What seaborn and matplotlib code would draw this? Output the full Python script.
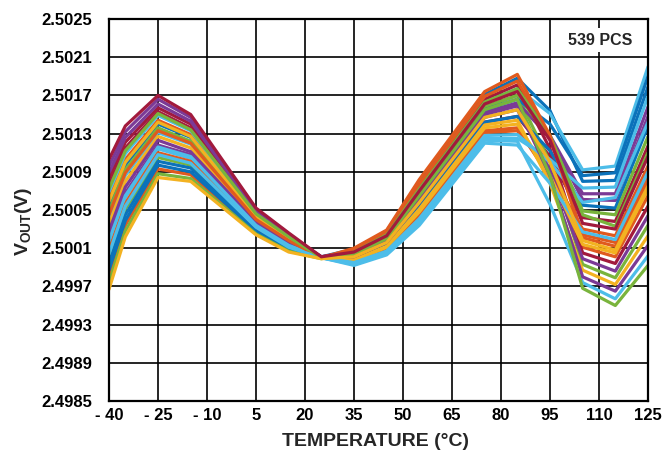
import matplotlib
matplotlib.use("Agg")
import matplotlib.pyplot as plt
import pandas as pd
import seaborn as sns
from matplotlib import font_manager

# ---------------- data ----------------
temperature_c = [-40, -35, -25, -15, 5, 15, 25, 35, 45, 55, 75, 85, 95, 105, 115, 125]

unit_01 = [2.50096, 2.50132, 2.50166, 2.50147, 2.50051, 2.50025, 2.50000, 2.50003, 2.50019, 2.50063, 2.50152, 2.50162, 2.50126, 2.50061, 2.50060, 2.50148]
unit_02 = [2.49981, 2.50034, 2.50093, 2.50087, 2.50027, 2.50008, 2.50000, 2.49996, 2.50009, 2.50046, 2.50133, 2.50136, 2.50084, 2.50011, 2.50001, 2.50065]
unit_03 = [2.50055, 2.50097, 2.50140, 2.50126, 2.50042, 2.50019, 2.50001, 2.50009, 2.50028, 2.50080, 2.50171, 2.50188, 2.50154, 2.50080, 2.50081, 2.50179]
unit_04 = [2.50015, 2.50063, 2.50114, 2.50104, 2.50034, 2.50013, 2.50000, 2.49993, 2.50004, 2.50036, 2.50123, 2.50122, 2.50056, 2.49974, 2.49957, 2.50002]
unit_05 = [2.50076, 2.50115, 2.50153, 2.50136, 2.50046, 2.50022, 2.50000, 2.49999, 2.50013, 2.50053, 2.50142, 2.50148, 2.50106, 2.50042, 2.50038, 2.50117]
unit_06 = [2.50001, 2.50051, 2.50105, 2.50097, 2.50031, 2.50011, 2.50000, 2.50005, 2.50021, 2.50068, 2.50158, 2.50170, 2.50100, 2.49993, 2.49979, 2.50034]
unit_07 = [2.50042, 2.50086, 2.50131, 2.50119, 2.50039, 2.50017, 2.50000, 2.50006, 2.50024, 2.50072, 2.50163, 2.50177, 2.50151, 2.50092, 2.50096, 2.50200]
unit_08 = [2.49967, 2.50022, 2.50084, 2.50080, 2.50024, 2.50006, 2.49999, 2.50001, 2.50016, 2.50058, 2.50147, 2.50155, 2.50100, 2.50018, 2.50008, 2.50075]
unit_09 = [2.50062, 2.50103, 2.50144, 2.50129, 2.50044, 2.50020, 2.50000, 2.49996, 2.50008, 2.50044, 2.50131, 2.50133, 2.50089, 2.50030, 2.50023, 2.50096]
unit_10 = [2.50021, 2.50068, 2.50118, 2.50108, 2.50035, 2.50014, 2.50000, 2.50003, 2.50019, 2.50063, 2.50152, 2.50162, 2.50128, 2.50067, 2.50067, 2.50158]
unit_11 = [2.50083, 2.50121, 2.50157, 2.50140, 2.50048, 2.50023, 2.50001, 2.50007, 2.50025, 2.50075, 2.50166, 2.50181, 2.50114, 2.50005, 2.49994, 2.50054]
unit_12 = [2.49994, 2.50045, 2.50101, 2.50094, 2.50030, 2.50010, 2.50000, 2.49999, 2.50013, 2.50053, 2.50142, 2.50148, 2.50112, 2.50055, 2.50052, 2.50138]
unit_13 = [2.50035, 2.50080, 2.50127, 2.50115, 2.50038, 2.50016, 2.50000, 2.49998, 2.50012, 2.50051, 2.50139, 2.50144, 2.50078, 2.49987, 2.49972, 2.50023]
unit_14 = [2.50049, 2.50092, 2.50136, 2.50122, 2.50041, 2.50018, 2.50000, 2.50005, 2.50021, 2.50068, 2.50158, 2.50170, 2.50126, 2.50049, 2.50045, 2.50127]
unit_15 = [2.50008, 2.50057, 2.50110, 2.50101, 2.50032, 2.50012, 2.50000, 2.50008, 2.50026, 2.50077, 2.50169, 2.50185, 2.50126, 2.50024, 2.50016, 2.50086]
unit_16 = [2.50069, 2.50109, 2.50149, 2.50133, 2.50045, 2.50021, 2.50000, 2.49994, 2.50006, 2.50039, 2.50125, 2.50125, 2.50103, 2.50073, 2.50074, 2.50169]
unit_17 = [2.50028, 2.50074, 2.50123, 2.50111, 2.50037, 2.50015, 2.50000, 2.50001, 2.50016, 2.50058, 2.50147, 2.50155, 2.50092, 2.49999, 2.49986, 2.50044]
unit_19 = [2.49987, 2.50039, 2.50097, 2.50090, 2.50028, 2.50009, 2.50000, 2.50004, 2.50020, 2.50065, 2.50155, 2.50166, 2.50140, 2.50086, 2.50089, 2.50190]
unit_20 = [2.50059, 2.50100, 2.50142, 2.50127, 2.50043, 2.50020, 2.50000, 2.49997, 2.50011, 2.50048, 2.50136, 2.50140, 2.50086, 2.50014, 2.50005, 2.50072]
unit_21 = [2.50018, 2.50065, 2.50116, 2.50106, 2.50034, 2.50013, 2.50000, 2.49995, 2.50007, 2.50041, 2.50128, 2.50129, 2.50100, 2.50058, 2.50063, 2.50142]
unit_22 = [2.50089, 2.50126, 2.50161, 2.50143, 2.50049, 2.50024, 2.50001, 2.50002, 2.50017, 2.50060, 2.50150, 2.50159, 2.50086, 2.49980, 2.49965, 2.50013]
unit_23 = [2.49974, 2.50028, 2.50088, 2.50083, 2.50025, 2.50007, 2.49999, 2.50006, 2.50024, 2.50072, 2.50163, 2.50177, 2.50128, 2.50045, 2.50033, 2.50110]
unit_24 = [2.50045, 2.50089, 2.50133, 2.50120, 2.50040, 2.50018, 2.50000, 2.50010, 2.50029, 2.50082, 2.50174, 2.50192, 2.50128, 2.50021, 2.50012, 2.50080]
unit_25 = [2.50004, 2.50054, 2.50108, 2.50099, 2.50032, 2.50011, 2.50000, 2.49992, 2.50003, 2.50034, 2.50120, 2.50118, 2.50078, 2.50027, 2.50019, 2.50090]
unit_26 = [2.50072, 2.50112, 2.50151, 2.50134, 2.50046, 2.50022, 2.50000, 2.50004, 2.50020, 2.50065, 2.50155, 2.50166, 2.50086, 2.49968, 2.49950, 2.49992]
unit_18 = [2.50103, 2.50138, 2.50170, 2.50150, 2.50052, 2.50026, 2.50001, 2.50006, 2.50023, 2.50070, 2.50161, 2.50174, 2.50123, 2.50036, 2.50030, 2.50106]

units = [unit_01, unit_02, unit_03, unit_04, unit_05, unit_06, unit_07, unit_09,
         unit_10, unit_11, unit_12, unit_13, unit_14, unit_15, unit_16, unit_17,
         unit_19, unit_20, unit_21, unit_22, unit_23, unit_24, unit_25, unit_26,
         unit_08, unit_18]

x_ticks = [-40, -25, -10, 5, 20, 35, 50, 65, 80, 95, 110, 125]
x_tick_labels = ["- 40", "- 25", "- 10", "5", "20", "35", "50", "65", "80", "95", "110", "125"]
y_ticks = [2.4985, 2.4989, 2.4993, 2.4997, 2.5001, 2.5005, 2.5009, 2.5013, 2.5017, 2.5021, 2.5025]
y_tick_labels = ["2.4985", "2.4989", "2.4993", "2.4997", "2.5001", "2.5005",
                 "2.5009", "2.5013", "2.5017", "2.5021", "2.5025"]
count_label = "539 PCS"

# ---------------- styles ----------------
BLUE, ORANGE, YELLOW, PURPLE = "#0b72ba", "#e05a1e", "#f3b221", "#7b3a96"
GREEN, SKY, RED = "#79b43c", "#4dbde9", "#a21a3d"
line_colors = [PURPLE, ORANGE, BLUE, SKY, RED, GREEN, SKY, ORANGE,
               PURPLE, RED, BLUE, YELLOW, GREEN, ORANGE, SKY, PURPLE,
               BLUE, YELLOW, SKY, PURPLE, GREEN, ORANGE, SKY, GREEN,
               YELLOW, RED]

sns.set_theme(style="white")
names = {f.name for f in font_manager.fontManager.ttflist}
narrow = "Liberation Sans Narrow" if "Liberation Sans Narrow" in names else "Liberation Sans"
plt.rcParams["font.family"] = [narrow, "DejaVu Sans"]
plt.rcParams["font.weight"] = "bold"
plt.rcParams["mathtext.fontset"] = "custom"
plt.rcParams["mathtext.rm"] = f"{narrow}:bold"
plt.rcParams["mathtext.default"] = "rm"

rows = []
for i, vals in enumerate(units):
    for t, v in zip(temperature_c, vals):
        rows.append((f"u{i:02d}", t, v))
df = pd.DataFrame(rows, columns=["unit", "temp", "vout"])

W, H = 667, 453
fig = plt.figure(figsize=(W / 100, H / 100), dpi=100)
ax = fig.add_axes([109 / W, 1 - 401 / H, 539 / W, 382 / H])

sns.lineplot(data=df, x="temp", y="vout", hue="unit", palette=line_colors,
             legend=False, linewidth=2.3, estimator=None, sort=False, ax=ax)

ax.set_xlim(-40, 125)
ax.set_ylim(2.4985, 2.5025)
ax.set_xticks(x_ticks)
ax.set_xticklabels(x_tick_labels)
ax.set_yticks(y_ticks)
ax.set_yticklabels(y_tick_labels)
ax.tick_params(axis="both", length=0, labelsize=12, colors="black")
ax.tick_params(axis="y", pad=12)
ax.tick_params(axis="x", pad=5)
for lab in ax.get_xticklabels() + ax.get_yticklabels():
    lab.set_fontweight("bold")
ax.grid(True, color="black", linewidth=1.2)
ax.set_axisbelow(True)
for s in ax.spines.values():
    s.set_visible(True)
    s.set_color("black")
    s.set_linewidth(1.6)
ax.set_xlabel("")
ax.set_ylabel("")

fig.text(375 / W, 1 - 441 / H, "TEMPERATURE (°C)", ha="center", va="center",
         fontsize=14, fontweight="bold")
fig.text(24 / W, 1 - 221 / H, r"V$_{\rm OUT}$(V)", rotation=90, ha="center",
         va="center", fontsize=14, fontweight="bold")
ax.text(0.911, 0.945, count_label, transform=ax.transAxes, ha="center", va="center",
        fontsize=11.5, fontweight="bold", zorder=10,
        bbox=dict(facecolor="white", edgecolor="none", pad=3))

fig.savefig("out.png", dpi=100)
